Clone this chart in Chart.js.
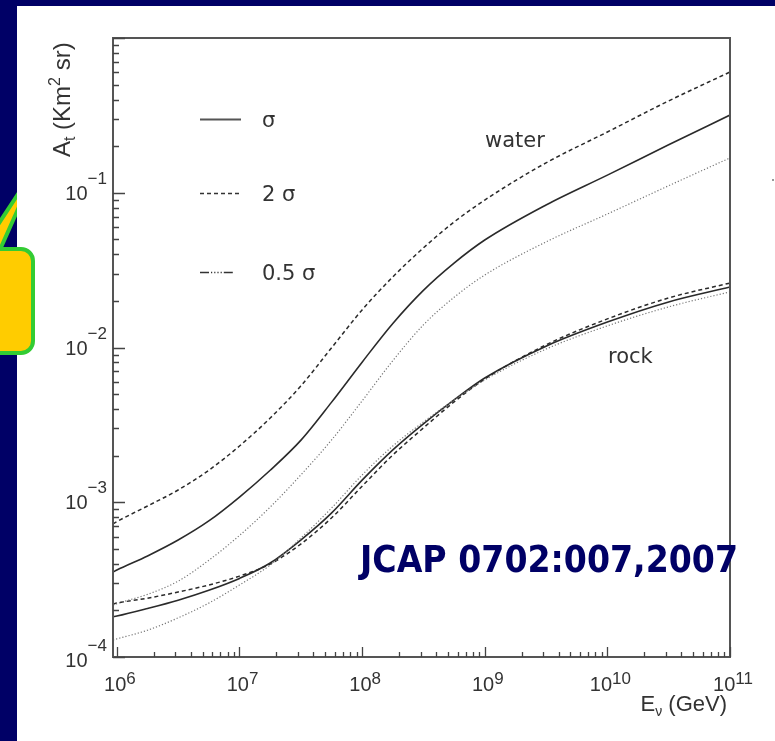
<!DOCTYPE html>
<html>
<head>
<meta charset="utf-8">
<script src="https://cdn.jsdelivr.net/npm/chart.js@4/dist/chart.umd.min.js"></script>
<style>
html,body{margin:0;padding:0;background:#000066;overflow:hidden}
#wrap{position:relative;width:775px;height:741px}
</style>
</head>
<body>
<div id="wrap"><canvas id="c"></canvas></div>
<script>
// ---- data ----
const energies = [9.3e5, 1e6, 1.78e6, 3.16e6, 5.62e6, 1e7, 1.78e7, 3.16e7, 5.62e7, 1e8, 1.78e8, 3.16e8, 5.62e8, 1e9, 3.16e9, 1e10, 3.16e10, 1e11];
const waterSigma     = [3.54e-4, 3.65e-4, 4.50e-4, 5.70e-4, 7.57e-4, 1.08e-3, 1.61e-3, 2.51e-3, 4.42e-3, 8.04e-3, 1.43e-2, 2.34e-2, 3.51e-2, 4.95e-2, 8.34e-2, 0.130, 0.204, 0.318];
const water2Sigma    = [7.25e-4, 7.50e-4, 9.46e-4, 1.20e-3, 1.61e-3, 2.31e-3, 3.50e-3, 5.64e-3, 9.93e-3, 1.75e-2, 2.86e-2, 4.40e-2, 6.47e-2, 8.97e-2, 0.156, 0.247, 0.392, 0.603];
const waterHalfSigma = [2.16e-4, 2.21e-4, 2.54e-4, 3.09e-4, 4.22e-4, 6.10e-4, 9.31e-4, 1.50e-3, 2.52e-3, 4.52e-3, 8.22e-3, 1.40e-2, 2.11e-2, 2.94e-2, 4.81e-2, 7.29e-2, 0.111, 0.168];
const rockSigma      = [1.82e-4, 1.84e-4, 2.06e-4, 2.33e-4, 2.70e-4, 3.22e-4, 4.05e-4, 5.70e-4, 8.51e-4, 1.39e-3, 2.18e-3, 3.21e-3, 4.58e-3, 6.35e-3, 1.02e-2, 1.46e-2, 1.97e-2, 2.46e-2];
const rock2Sigma     = [2.20e-4, 2.23e-4, 2.40e-4, 2.63e-4, 2.92e-4, 3.33e-4, 3.99e-4, 5.37e-4, 7.91e-4, 1.27e-3, 2.02e-3, 3.02e-3, 4.45e-3, 6.25e-3, 1.04e-2, 1.53e-2, 2.09e-2, 2.61e-2];
const rockHalfSigma  = [1.29e-4, 1.31e-4, 1.49e-4, 1.79e-4, 2.23e-4, 2.92e-4, 3.93e-4, 5.86e-4, 9.16e-4, 1.50e-3, 2.31e-3, 3.30e-3, 4.58e-3, 6.17e-3, 9.77e-3, 1.38e-2, 1.83e-2, 2.29e-2];

const xTickValues = [1e6, 1e7, 1e8, 1e9, 1e10, 1e11];
const xTickExponents = ['6', '7', '8', '9', '10', '11'];
const yTickValues = [1e-4, 1e-3, 1e-2, 1e-1];
const yTickExponents = ['\u22124', '\u22123', '\u22122', '\u22121'];
const legendLabels = ['\u03c3', '2 \u03c3', '0.5 \u03c3'];
const mediumLabels = ['water', 'rock'];
const referenceText = 'JCAP 0702:007,2007';

// ---- styles ----
const NAVY = '#000066';
const INK = '#333333';
const styleSigma = {borderColor: '#2a2a2a', borderWidth: 1.6, borderDash: []};
const style2Sigma = {borderColor: '#2a2a2a', borderWidth: 1.5, borderDash: [4, 3]};
const styleHalf = {borderColor: '#777777', borderWidth: 1.2, borderDash: [1.2, 2]};

function pts(vals){ return energies.map((e, i) => ({x: e, y: vals[i]})); }
function ds(label, vals, st){
  return Object.assign({label, data: pts(vals), pointRadius: 0, fill: false,
    cubicInterpolationMode: 'monotone'}, st);
}

const decoPlugin = {
  id: 'deco',
  beforeDraw(chart){
    const ctx = chart.ctx;
    ctx.save();
    ctx.fillStyle = NAVY;
    ctx.fillRect(0, 0, chart.width, chart.height);
    // callout pointer (partly hidden by the white panel)
    ctx.beginPath();
    ctx.moveTo(-10, 237); ctx.lineTo(39, 162); ctx.lineTo(-10, 272); ctx.closePath();
    ctx.fillStyle = '#FFCC00'; ctx.fill();
    ctx.lineWidth = 4; ctx.strokeStyle = '#33CC33'; ctx.stroke();
    // white panel
    ctx.fillStyle = '#ffffff';
    ctx.fillRect(17, 6, chart.width - 17, chart.height - 6);
    ctx.restore();
  },
  afterDraw(chart){
    const ctx = chart.ctx;
    const a = chart.chartArea;
    const xs = chart.scales.x, ys = chart.scales.y;
    ctx.save();
    // frame
    ctx.strokeStyle = '#555';
    ctx.lineWidth = 2;
    ctx.strokeRect(a.left, a.top, a.right - a.left, a.bottom - a.top);
    // ticks
    ctx.lineWidth = 1.3;
    ctx.strokeStyle = '#444';
    ctx.beginPath();
    for (let d = 5; d <= 11; d++) for (let m = 1; m <= 9; m++){
      const v = m * Math.pow(10, d);
      if (v < xs.min * 0.999 || v > xs.max * 1.001) continue;
      const px = Math.round(xs.getPixelForValue(v)) + 0.5;
      const len = m === 1 ? 10 : 5;
      ctx.moveTo(px, a.bottom); ctx.lineTo(px, a.bottom - len);
    }
    for (let d = -4; d <= 0; d++) for (let m = 1; m <= 9; m++){
      const v = m * Math.pow(10, d);
      if (v < ys.min * 0.999 || v > ys.max * 1.001) continue;
      const py = Math.round(ys.getPixelForValue(v)) + 0.5;
      const len = m === 1 ? 12 : 6;
      ctx.moveTo(a.left, py); ctx.lineTo(a.left + len, py);
    }
    ctx.stroke();

    // tick labels
    ctx.fillStyle = INK;
    ctx.textBaseline = 'alphabetic';
    const baseFont = '20px "Liberation Sans", Arial, sans-serif';
    const expFont = '17px "Liberation Sans", Arial, sans-serif';
    xTickValues.forEach((v, i) => {
      const px = xs.getPixelForValue(v);
      ctx.font = baseFont; const w1 = ctx.measureText('10').width;
      ctx.font = expFont; const w2 = ctx.measureText(xTickExponents[i]).width;
      const x0 = px + 3 - (w1 + w2) / 2;
      ctx.textAlign = 'left';
      ctx.font = baseFont; ctx.fillText('10', x0, a.bottom + 34);
      ctx.font = expFont; ctx.fillText(xTickExponents[i], x0 + w1, a.bottom + 27);
    });
    yTickValues.forEach((v, i) => {
      const py = ys.getPixelForValue(v);
      ctx.font = baseFont; const w1 = ctx.measureText('10').width;
      ctx.font = expFont; const w2 = ctx.measureText(yTickExponents[i]).width;
      const xe = 107;
      const off = i === 0 ? 3 : 0;
      ctx.textAlign = 'left';
      ctx.font = baseFont; ctx.fillText('10', xe - w2 - w1, py + 7 + off);
      ctx.font = expFont; ctx.fillText(yTickExponents[i], xe - w2, py - 9 + off);
    });

    // y axis title (rotated)
    ctx.save();
    ctx.translate(70, 157);
    ctx.rotate(-Math.PI / 2);
    let cx = 0;
    const big = '24px "Liberation Sans", Arial, sans-serif';
    const small = '16px "Liberation Sans", Arial, sans-serif';
    const parts = [['A', big, 0], ['t', small, 5], [' (Km', big, 0], ['2', small, -10], [' sr)', big, 0]];
    parts.forEach(([t, f, dy]) => { ctx.font = f; ctx.fillText(t, cx, dy); cx += ctx.measureText(t).width; });
    ctx.restore();

    // x axis title
    {
      const bigX = '22px "Liberation Sans", Arial, sans-serif';
      const smallX = '14px "Liberation Sans", Arial, sans-serif';
      const p = [['E', bigX, 0], ['\u03bd', smallX, 5], [' (GeV)', bigX, 0]];
      let tw = 0; p.forEach(([t, f]) => { ctx.font = f; tw += ctx.measureText(t).width; });
      let x = 727 - tw;
      p.forEach(([t, f, dy]) => { ctx.font = f; ctx.fillText(t, x, 711 + dy); x += ctx.measureText(t).width; });
    }

    // legend
    const legY = [119, 193, 272];
    const legStyles = [[], [4, 3], [9, 2, 1.2, 2, 1.2, 2, 1.2, 2, 1.2, 2, 9]];
    ctx.font = '21px "DejaVu Sans", sans-serif';
    legendLabels.forEach((lab, i) => {
      ctx.save();
      ctx.strokeStyle = i === 0 ? '#555' : '#333';
      ctx.lineWidth = i === 0 ? 2 : 1.5;
      ctx.setLineDash(legStyles[i]);
      ctx.beginPath(); ctx.moveTo(200, legY[i] + 0.5); ctx.lineTo(241, legY[i] + 0.5); ctx.stroke();
      ctx.restore();
      ctx.fillText(lab, 262, legY[i] + 8);
    });

    // medium labels
    ctx.font = '21px "DejaVu Sans", sans-serif';
    ctx.fillText(mediumLabels[0], 485, 147);
    ctx.fillText(mediumLabels[1], 608, 363);

    // tiny stray dot
    ctx.fillStyle = '#999';
    ctx.fillRect(772, 179, 2, 2);

    // callout box
    ctx.beginPath();
    ctx.roundRect(-20, 249, 53, 104, 12);
    ctx.fillStyle = '#FFCC00'; ctx.fill();
    ctx.lineWidth = 4; ctx.strokeStyle = '#33CC33'; ctx.stroke();

    // reference text
    ctx.font = 'bold 38px "DejaVu Sans", sans-serif';
    const w = ctx.measureText(referenceText).width;
    ctx.translate(360, 572);
    ctx.scale(378 / w, 1);
    ctx.fillStyle = NAVY;
    ctx.textAlign = 'left';
    ctx.fillText(referenceText, 0, 0);
    ctx.restore();
  }
};

new Chart(document.getElementById('c'), {
  type: 'line',
  data: {
    datasets: [
      ds('water 0.5σ', waterHalfSigma, styleHalf),
      ds('rock 0.5σ', rockHalfSigma, styleHalf),
      ds('water 2σ', water2Sigma, style2Sigma),
      ds('rock 2σ', rock2Sigma, style2Sigma),
      ds('water σ', waterSigma, styleSigma),
      ds('rock σ', rockSigma, styleSigma)
    ]
  },
  options: {
    responsive: true,
    maintainAspectRatio: false,
    animation: false,
    events: [],
    layout: {padding: {left: 0, right: 45, top: 38, bottom: 0}},
    plugins: {legend: {display: false}, tooltip: {enabled: false}},
    scales: {
      x: {type: 'logarithmic', min: 9.3e5, max: 1e11,
          grid: {display: false}, border: {display: false}, ticks: {display: false},
          afterFit(s){ s.height = 84; }},
      y: {type: 'logarithmic', min: 1e-4, max: 1,
          grid: {display: false}, border: {display: false}, ticks: {display: false},
          afterFit(s){ s.width = 113; }}
    }
  },
  plugins: [decoPlugin]
});
</script>
</body>
</html>
